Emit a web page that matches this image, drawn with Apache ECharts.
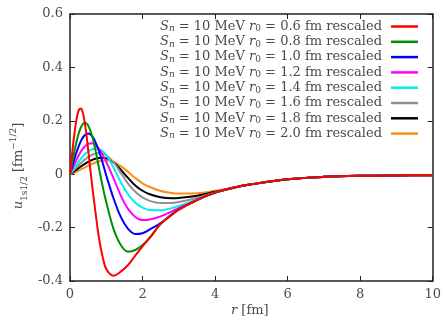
<!DOCTYPE html>
<html>
<head>
<meta charset="utf-8">
<script src="https://cdn.jsdelivr.net/npm/echarts@6/dist/echarts.min.js"></script>
<style>html,body{margin:0;padding:0;background:#fff;}#c{width:444px;height:321px;}</style>
</head>
<body>
<div id="c"></div>
<script>
const R = [0,0.05,0.1,0.15,0.2,0.25,0.3,0.35,0.4,0.45,0.5,0.6,0.7,0.8,0.9,1.0,1.2,1.4,1.6,1.8,2.0,2.2,2.5,2.8,3.0,3.5,4,4.5,5,6,7,8,9,10];
const r06 = [0,0.066,0.128,0.180,0.220,0.242,0.246,0.232,0.199,0.152,0.092,-0.03,-0.14,-0.24,-0.31,-0.355,-0.38,-0.365,-0.34,-0.305,-0.27,-0.238,-0.186,-0.153,-0.133,-0.097,-0.069,-0.051,-0.038,-0.019,-0.010,-0.006,-0.0045,-0.004];
const r08 = [0,0.036,0.071,0.104,0.133,0.157,0.175,0.187,0.193,0.191,0.183,0.148,0.091,0.022,-0.045,-0.105,-0.205,-0.265,-0.29,-0.284,-0.265,-0.238,-0.186,-0.153,-0.133,-0.097,-0.069,-0.051,-0.038,-0.019,-0.010,-0.006,-0.0045,-0.004];
const r10 = [0,0.024,0.047,0.070,0.090,0.108,0.124,0.136,0.145,0.150,0.152,0.144,0.121,0.086,0.043,-0.005,-0.09,-0.16,-0.205,-0.224,-0.221,-0.207,-0.183,-0.151,-0.132,-0.097,-0.069,-0.051,-0.038,-0.019,-0.010,-0.006,-0.0045,-0.004];
const r12 = [0,0.016,0.031,0.046,0.060,0.073,0.085,0.095,0.103,0.109,0.114,0.116,0.109,0.095,0.073,0.046,-0.015,-0.08,-0.13,-0.16,-0.172,-0.17,-0.158,-0.14,-0.127,-0.096,-0.069,-0.051,-0.038,-0.019,-0.010,-0.006,-0.0045,-0.004];
const r14 = [0,0.01,0.02,0.03,0.04,0.049,0.058,0.066,0.074,0.08,0.085,0.093,0.096,0.094,0.086,0.072,0.025,-0.03,-0.075,-0.107,-0.125,-0.134,-0.135,-0.127,-0.119,-0.095,-0.069,-0.051,-0.038,-0.019,-0.010,-0.006,-0.0045,-0.004];
const r16 = [0,0.007,0.014,0.021,0.028,0.035,0.042,0.048,0.054,0.059,0.064,0.072,0.077,0.079,0.077,0.071,0.045,0.005,-0.035,-0.066,-0.087,-0.1,-0.108,-0.108,-0.104,-0.089,-0.068,-0.051,-0.038,-0.019,-0.010,-0.006,-0.0045,-0.004];
const r18 = [0,0.0045,0.009,0.014,0.019,0.024,0.029,0.0335,0.038,0.042,0.046,0.053,0.058,0.061,0.062,0.06,0.045,0.017,-0.014,-0.042,-0.062,-0.075,-0.086,-0.09,-0.089,-0.081,-0.066,-0.051,-0.038,-0.019,-0.010,-0.006,-0.0045,-0.004];
const r20 = [0,0.0025,0.005,0.008,0.011,0.0145,0.018,0.0215,0.025,0.0285,0.032,0.038,0.044,0.048,0.051,0.052,0.046,0.03,0.009,-0.014,-0.034,-0.048,-0.063,-0.07,-0.072,-0.071,-0.062,-0.05,-0.038,-0.019,-0.010,-0.006,-0.0045,-0.004];
const r0Labels = ['0.6','0.8','1.0','1.2','1.4','1.6','1.8','2.0'];
const seriesValues = [r06,r08,r10,r12,r14,r16,r18,r20];
const colors = ['#ff0000','#009000','#0000ff','#ff00ff','#00eeee','#909090','#000000','#ff8c1a'];
const xTicks = [0,2,4,6,8,10];

const FONT = 'DejaVu Serif';
const FS = 13;
const TXT = '#4a4a4a';
const names = r0Labels.map(v => 'S_n = 10 MeV r_0 = ' + v + ' fm rescaled');

const chart = echarts.init(document.getElementById('c'), null, {renderer: 'canvas'});
const axisCommon = {
  axisLine: {show: true, onZero: false, lineStyle: {color: '#222', width: 1.5}},
  axisTick: {show: true, inside: true, length: 5, lineStyle: {color: '#222', width: 1}},
  splitLine: {show: false}
};
const option = {
  animation: false,
  backgroundColor: '#fff',
  grid: {left: 70, right: 10, top: 14, bottom: 40},
  xAxis: [
    Object.assign({type: 'value', min: 0, max: 10, interval: 2, position: 'bottom',
      axisLabel: {color: TXT, fontFamily: FONT, fontSize: FS, margin: 7,
        formatter: v => xTicks.includes(v) ? String(v) : ''}}, axisCommon),
    Object.assign({type: 'value', min: 0, max: 10, interval: 2, position: 'top',
      axisLabel: {show: false}}, axisCommon)
  ],
  yAxis: [
    Object.assign({type: 'value', min: -0.4, max: 0.6, interval: 0.2, position: 'left',
      axisLabel: {color: TXT, fontFamily: FONT, fontSize: FS, margin: 7,
        formatter: v => Math.abs(v) < 1e-9 ? '0' : v.toFixed(1)}}, axisCommon),
    Object.assign({type: 'value', min: -0.4, max: 0.6, interval: 0.2, position: 'right',
      axisLabel: {show: false}}, axisCommon)
  ],
  legend: {
    orient: 'vertical', right: 21, top: 15, align: 'right',
    icon: 'rect', itemWidth: 27, itemHeight: 2.5, itemGap: 1.8,
    data: names,
    formatter: function (name) {
      const v = name.match(/= ([0-9.]+) fm/)[1];
      return '{i|S}{si|n}{t| = 10 MeV }{i|r}{s|0}{t| = ' + v + ' fm rescaled}';
    },
    textStyle: {
      color: TXT, fontFamily: FONT, fontSize: FS, padding: [0, 4, 0, 0],
      rich: {
        t: {fontFamily: FONT, fontSize: FS, color: TXT, lineHeight: 14},
        i: {fontFamily: FONT, fontSize: FS, fontStyle: 'italic', color: TXT, lineHeight: 14},
        s: {fontFamily: FONT, fontSize: 9, color: TXT, verticalAlign: 'bottom', lineHeight: 14},
        si: {fontFamily: FONT, fontSize: 9, fontStyle: 'italic', color: TXT, verticalAlign: 'bottom', lineHeight: 14}
      }
    }
  },
  graphic: [
    {type: 'text', left: 231, top: 304,
      style: {text: '{i|r} [fm]', fill: TXT, font: FS + 'px ' + FONT,
        rich: {i: {fontStyle: 'italic', fontFamily: FONT, fontSize: FS, fill: TXT}}}},
    {type: 'text', x: 19, y: 166, rotation: Math.PI / 2,
      style: {text: '{i|u}{s|1s1/2} [fm{p|−1/2}]', fill: TXT, font: FS + 'px ' + FONT,
        align: 'center', verticalAlign: 'middle',
        rich: {
          i: {fontStyle: 'italic', fontFamily: FONT, fontSize: FS, fill: TXT, lineHeight: 20},
          s: {fontFamily: FONT, fontSize: 9, fill: TXT, verticalAlign: 'bottom', lineHeight: 20},
          p: {fontFamily: FONT, fontSize: 9, fill: TXT, verticalAlign: 'top', lineHeight: 20}
        }}}
  ],
  series: seriesValues.map((vals, k) => ({
    name: names[k], type: 'line', xAxisIndex: 0, yAxisIndex: 0,
    data: R.map((r, i) => [r, vals[i]]),
    symbol: 'none', smooth: 0.35, clip: true,
    lineStyle: {color: colors[k], width: 2},
    itemStyle: {color: colors[k]},
    z: 10 - k
  }))
};
chart.setOption(option);
</script>
</body>
</html>
